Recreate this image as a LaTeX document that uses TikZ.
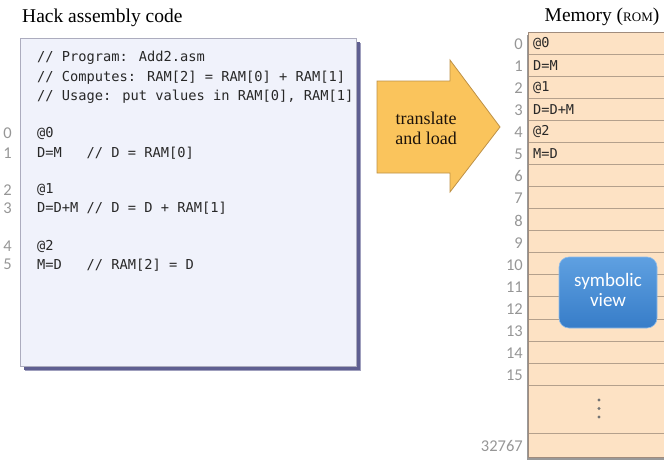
\documentclass[tikz,border=0pt]{standalone}
\usepackage{fontspec}
\setmainfont{Liberation Serif}
\newfontfamily\codefont{DejaVu Sans Mono}
\newfontfamily\numfont{Carlito}
\definecolor{codefill}{RGB}{240,242,251}
\definecolor{codeborder}{RGB}{172,172,190}
\definecolor{codeshadow}{RGB}{95,95,145}
\definecolor{memfill}{RGB}{253,226,196}
\definecolor{memline}{RGB}{180,160,140}
\definecolor{memborder}{RGB}{160,140,125}
\definecolor{arrowfill}{RGB}{250,196,92}
\definecolor{arrowborder}{RGB}{190,145,70}
\definecolor{numgray}{RGB}{150,150,150}
\definecolor{bluetop}{RGB}{95,160,225}
\definecolor{bluebot}{RGB}{55,125,200}
\definecolor{textgray}{RGB}{40,40,40}
\tikzset{
  title/.style={font=\fontsize{19.5}{22}\selectfont, text=black, inner sep=0pt},
  codeline/.style={anchor=west, font=\codefont\fontsize{13.7}{16}\selectfont, text=textgray, inner sep=0pt},
  memtext/.style={anchor=west, font=\codefont\fontsize{13.6}{15}\selectfont, text=textgray, inner sep=0pt},
  lineno/.style={anchor=east, font=\numfont\fontsize{16.5}{18}\selectfont, text=numgray, inner sep=0pt},
  arrowtext/.style={font=\fontsize{18}{22}\selectfont, text=black!85!brown, align=center, inner sep=0pt},
  symtext/.style={font=\numfont\fontsize{19}{23}\selectfont, text=white, align=center, inner sep=0pt}
}
\begin{document}
\begin{tikzpicture}[x=1pt,y=-1pt]
\useasboundingbox (0,0) rectangle (664,466);
% ---- code box
\fill[codeshadow!60] (25,43) rectangle (361,371);
\fill[codeshadow] (24,42) rectangle (360,370);
\draw[codeborder, fill=codefill, line width=1pt] (20,38) rectangle (356,366);
\node[title, anchor=west] (t1) at (22,18) {Hack assembly code};
\node[codeline] (c1) at (37,58) {// Program: Add2.asm};
\node[codeline] (c2) at (37,77.5) {// Computes: RAM[2] = RAM[0] + RAM[1]};
\node[codeline] (c3) at (37,97) {// Usage: put values in RAM[0], RAM[1]};
\node[codeline] (c4) at (37,133) {@0};
\node[codeline] (c5) at (37,153) {D=M~~~// D = RAM[0]};
\node[codeline] (c6) at (37,190) {@1};
\node[codeline] (c7) at (37,208) {D=D+M // D = D + RAM[1]};
\node[codeline] (c8) at (37,246) {@2};
\node[codeline] (c9) at (37,265) {M=D~~~// RAM[2] = D};
\node[lineno] (n0) at (12,133) {0};
\node[lineno] (n1) at (12,153) {1};
\node[lineno] (n2) at (12,190) {2};
\node[lineno] (n3) at (12,208) {3};
\node[lineno] (n4) at (12,246) {4};
\node[lineno] (n5) at (12,264) {5};
% ---- arrow
\draw[arrowborder, fill=arrowfill, line width=0.8pt, line join=miter]
  (377,81) -- (450,81) -- (450,60) -- (500,127) -- (450,192) -- (450,173) -- (377,173) -- cycle;
\node[arrowtext] (tl) at (426,128.5) {translate\\[-2pt]and load};
% ---- memory
\node[title] (t2) at (602,17) {Memory ({\fontsize{13}{15}\selectfont ROM})};
\fill[black!40] (526.5,35) rectangle (666,460);
\fill[memfill] (528,32) rectangle (666,457);
\foreach \i in {1,...,16} {
  \draw[memline, line width=0.8pt] (528,{32+22.07*\i}) -- (666,{32+22.07*\i});
}
\draw[memline, line width=0.8pt] (528,433) -- (666,433);
\draw[memborder, line width=0.9pt] (666,32) -- (528,32) -- (528,457) -- (666,457);
\foreach \i in {0,...,15} {
  \node[lineno] (r\i) at (523,{32+22.07*(\i+0.5)+1}) {\i};
}
\node[lineno] (rlast) at (523,446) {32767};
\node[memtext] (m0) at (533,{32+22.07*0.5}) {@0};
\node[memtext] (m1) at (533,{32+22.07*1.5}) {D=M};
\node[memtext] (m2) at (533,{32+22.07*2.5}) {@1};
\node[memtext] (m3) at (533,{32+22.07*3.5}) {D=D+M};
\node[memtext] (m4) at (533,{32+22.07*4.5}) {@2};
\node[memtext] (m5) at (533,{32+22.07*5.5}) {M=D};
\foreach \y in {400,408.5,417} {
  \fill[black!55] (599,\y) circle (1.6);
}
% ---- symbolic view
\shade[top color=bluetop, bottom color=bluebot, rounded corners=10pt]
  (559,257) rectangle (657,328);
\draw[bluetop!70!white, rounded corners=10pt, line width=0.6pt] (559,257) rectangle (657,328);
\node[symtext] (sv) at (608,289.5) {symbolic\\[-3pt]view};
\end{tikzpicture}
\end{document}
